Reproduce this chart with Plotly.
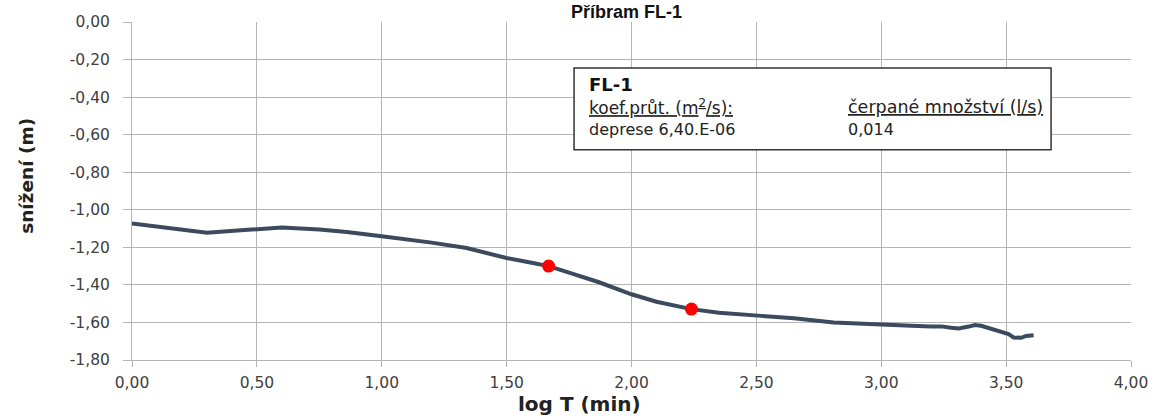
import plotly.graph_objects as go

# data
log_t = [0.00, 0.10, 0.20, 0.30, 0.45, 0.60, 0.75, 0.86, 1.00, 1.10, 1.20, 1.34, 1.50, 1.60, 1.668,
         1.75, 1.87, 2.00, 2.10, 2.24, 2.35, 2.52, 2.65, 2.81, 2.92, 3.02, 3.12, 3.20, 3.24, 3.28,
         3.31, 3.35, 3.375, 3.40, 3.42, 3.45, 3.48, 3.51, 3.53, 3.56, 3.58, 3.61]
drawdown = [-1.073, -1.089, -1.105, -1.122, -1.108, -1.095, -1.105, -1.118, -1.141, -1.157, -1.175, -1.204, -1.257, -1.282, -1.300,
            -1.335, -1.386, -1.450, -1.490, -1.529, -1.548, -1.565, -1.578, -1.600, -1.608, -1.614, -1.618, -1.622, -1.621, -1.628,
            -1.632, -1.622, -1.614, -1.618, -1.626, -1.635, -1.646, -1.662, -1.680, -1.682, -1.672, -1.668]
marker_t = [1.668, 2.24]
marker_s = [-1.300, -1.529]

x_ticks = [0, 0.5, 1, 1.5, 2, 2.5, 3, 3.5, 4]
x_tick_text = ["0,00", "0,50", "1,00", "1,50", "2,00", "2,50", "3,00", "3,50", "4,00"]
y_ticks = [0, -0.2, -0.4, -0.6, -0.8, -1.0, -1.2, -1.4, -1.6, -1.8]
y_tick_text = ["0,00", "-0,20", "-0,40", "-0,60", "-0,80", "-1,00", "-1,20", "-1,40", "-1,60", "-1,80"]

fig = go.Figure()
fig.add_trace(go.Scatter(x=log_t, y=drawdown, mode="lines",
                         line=dict(color="#3b4a5c", width=4), hoverinfo="skip"))
fig.add_trace(go.Scatter(x=marker_t, y=marker_s, mode="markers",
                         marker=dict(color="#ff0000", size=13, line=dict(width=0))))

grid = "#b4b4b4"
tick_font = dict(family="DejaVu Sans", size=15.5, color="#404040")
fig.update_layout(
    width=1160, height=418,
    margin=dict(l=132, r=22, t=22, b=58),
    paper_bgcolor="white", plot_bgcolor="white",
    showlegend=False,
    font=dict(family="DejaVu Sans", color="#333333", size=14),
    xaxis=dict(range=[0, 4], tickvals=x_ticks, ticktext=x_tick_text, tickfont=tick_font,
               showgrid=True, gridcolor=grid, gridwidth=1, zeroline=False,
               showline=True, linecolor=grid, ticks="outside", ticklen=6, tickcolor=grid,
               ticklabelstandoff=2),
    yaxis=dict(range=[-1.8, 0], tickvals=y_ticks, ticktext=y_tick_text, tickfont=tick_font,
               showgrid=True, gridcolor=grid, gridwidth=1, zeroline=False,
               showline=True, linecolor=grid, ticks="outside", ticklen=8, tickcolor=grid,
               ticklabelstandoff=10),
)

# axis titles
fig.add_annotation(text="<b>log T (min)</b>", xref="paper", yref="paper", x=0.448, y=-0.13,
                   xanchor="center", yanchor="middle", showarrow=False,
                   font=dict(family="DejaVu Sans", size=20, color="#222222"))
fig.add_annotation(text="<b>snížení (m)</b>", xref="paper", yref="paper", x=-0.1064, y=0.544,
                   xanchor="center", yanchor="middle", textangle=-90, showarrow=False,
                   font=dict(family="DejaVu Sans", size=18.5, color="#222222"))

# chart title (cut off at the top in the reference)
fig.add_annotation(text="<b>Příbram FL-1</b>", xref="paper", yref="paper", x=0.495, y=1.0,
                   yshift=22, yanchor="top", showarrow=False,
                   font=dict(family="Liberation Sans, Arial", size=18, color="#111111"))

# info box
fig.add_shape(type="rect", xref="x", yref="y", x0=1.77, x1=3.68, y0=-0.245, y1=-0.68,
              line=dict(color="#333333", width=1.5), fillcolor="white", layer="above")
box_font = dict(family="DejaVu Sans", size=17, color="#222222")
fig.add_annotation(text="<b>FL-1</b>", x=1.82, y=-0.335, xref="x", yref="y", xanchor="left",
                   yanchor="middle", showarrow=False, font=dict(family="DejaVu Sans", size=18, color="#111111"))
fig.add_annotation(text="<u>koef.průt. (m<sup>2</sup>/s):</u>", x=1.82, y=-0.453, xref="x", yref="y",
                   xanchor="left", yanchor="middle", showarrow=False, font=box_font)
fig.add_annotation(text="deprese 6,40.E-06", x=1.82, y=-0.57, xref="x", yref="y",
                   xanchor="left", yanchor="middle", showarrow=False,
                   font=dict(family="DejaVu Sans", size=16, color="#222222"))
fig.add_annotation(text="<u>čerpané množství (l/s)</u>", x=2.86, y=-0.453, xref="x", yref="y",
                   xanchor="left", yanchor="middle", showarrow=False,
                   font=dict(family="DejaVu Sans", size=17.5, color="#222222"))
fig.add_annotation(text="0,014", x=2.86, y=-0.57, xref="x", yref="y",
                   xanchor="left", yanchor="middle", showarrow=False,
                   font=dict(family="DejaVu Sans", size=16, color="#222222"))

fig.write_html("out.html")
